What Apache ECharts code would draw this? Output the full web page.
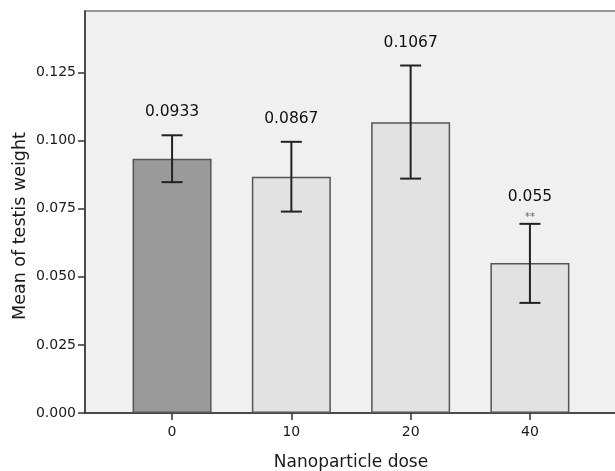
<html>
<head>
<meta charset="utf-8">
<script src="https://cdn.jsdelivr.net/npm/echarts@6/dist/echarts.min.js"></script>
<style>
  html, body { margin: 0; padding: 0; background: #fff; }
  #chart-main { width: 615px; height: 471px; }
</style>
</head>
<body>
<div id="chart-main"></div>
<script type="text/javascript">
// 数据
var doses = ['0', '10', '20', '40'];
var means = [0.0933, 0.0867, 0.1067, 0.055];
var errLow = [0.0847, 0.0739, 0.0860, 0.0404];
var errHigh = [0.1019, 0.0995, 0.1275, 0.0694];
var valueLabels = ['0.0933', '0.0867', '0.1067', '0.055'];
var marks = ['', '', '', '**'];
var yTicks = [0, 0.025, 0.05, 0.075, 0.1, 0.125];
var barColors = ['#9a9a9a', '#e2e2e2', '#e2e2e2', '#e2e2e2'];

var font = 'DejaVu Sans';

var myChart = echarts.init(document.getElementById('chart-main'));

var option = {
  animation: false,
  grid: {
    left: 85, right: -2, top: 11, bottom: 58,
    outerBoundsMode: 'none',
    show: true,
    backgroundColor: '#f0f0f0',
    borderColor: '#777',
    borderWidth: 1.5
  },
  xAxis: {
    type: 'value',
    min: -0.73,
    max: 3.73,
    splitLine: { show: false },
    axisLine: { show: true, lineStyle: { color: '#333', width: 1.5 } },
    axisTick: { show: true, length: 7, customValues: [0, 1, 2, 3], lineStyle: { color: '#333', width: 1.5 } },
    axisLabel: {
      customValues: [0, 1, 2, 3],
      margin: 12,
      fontFamily: font, fontSize: 14, color: '#1a1a1a',
      formatter: function (v) { return doses[Math.round(v)]; }
    },
    name: 'Nanoparticle dose',
    nameLocation: 'middle',
    nameGap: 41,
    nameTextStyle: { fontFamily: font, fontSize: 17, color: '#1a1a1a' }
  },
  yAxis: {
    type: 'value',
    min: 0,
    max: 0.1475,
    splitLine: { show: false },
    axisLine: { show: true, onZero: false, lineStyle: { color: '#333', width: 1.5 } },
    axisTick: { show: true, length: 7, customValues: yTicks, lineStyle: { color: '#333', width: 1.5 } },
    axisLabel: {
      customValues: yTicks,
      margin: 9,
      fontFamily: font, fontSize: 14, color: '#1a1a1a',
      formatter: function (v) { return v.toFixed(3); }
    }
  },
  graphic: [{
    type: 'text',
    x: 20, y: 226,
    rotation: Math.PI / 2,
    style: {
      text: 'Mean of testis weight',
      font: '17.5px "DejaVu Sans"',
      fill: '#1a1a1a',
      align: 'center',
      verticalAlign: 'middle'
    }
  }],
  series: [
    {
      type: 'bar',
      barWidth: 79,
      data: means.map(function (m, i) { return [i, m]; }),
      itemStyle: {
        color: function (p) { return barColors[p.dataIndex]; },
        borderColor: '#555',
        borderWidth: 1.5
      }
    },
    {
      type: 'custom',
      data: means.map(function (m, i) { return [i, errLow[i], errHigh[i]]; }),
      renderItem: function (params, api) {
        var i = api.value(0);
        var lo = api.coord([i, api.value(1)]);
        var hi = api.coord([i, api.value(2)]);
        var half = 10.5;
        var lineStyle = { stroke: '#222', lineWidth: 2 };
        var lift = marks[params.dataIndex] ? 4 : 0;
        var children = [
          { type: 'line', shape: { x1: hi[0], y1: hi[1], x2: lo[0], y2: lo[1] }, style: lineStyle },
          { type: 'line', shape: { x1: hi[0] - half, y1: hi[1], x2: hi[0] + half, y2: hi[1] }, style: lineStyle },
          { type: 'line', shape: { x1: lo[0] - half, y1: lo[1], x2: lo[0] + half, y2: lo[1] }, style: lineStyle },
          {
            type: 'text',
            style: {
              text: valueLabels[params.dataIndex],
              x: hi[0], y: hi[1] - 23 - lift,
              font: '15.5px "DejaVu Sans"',
              fill: '#111',
              align: 'center', verticalAlign: 'middle'
            }
          }
        ];
        if (marks[params.dataIndex]) {
          children.push({
            type: 'text',
            style: {
              text: marks[params.dataIndex],
              x: hi[0], y: hi[1] - 6,
              font: '10px "DejaVu Sans"',
              fill: '#666',
              align: 'center', verticalAlign: 'middle'
            }
          });
        }
        return { type: 'group', children: children };
      },
      z: 5
    }
  ]
};

myChart.setOption(option);
</script>
</body>
</html>
